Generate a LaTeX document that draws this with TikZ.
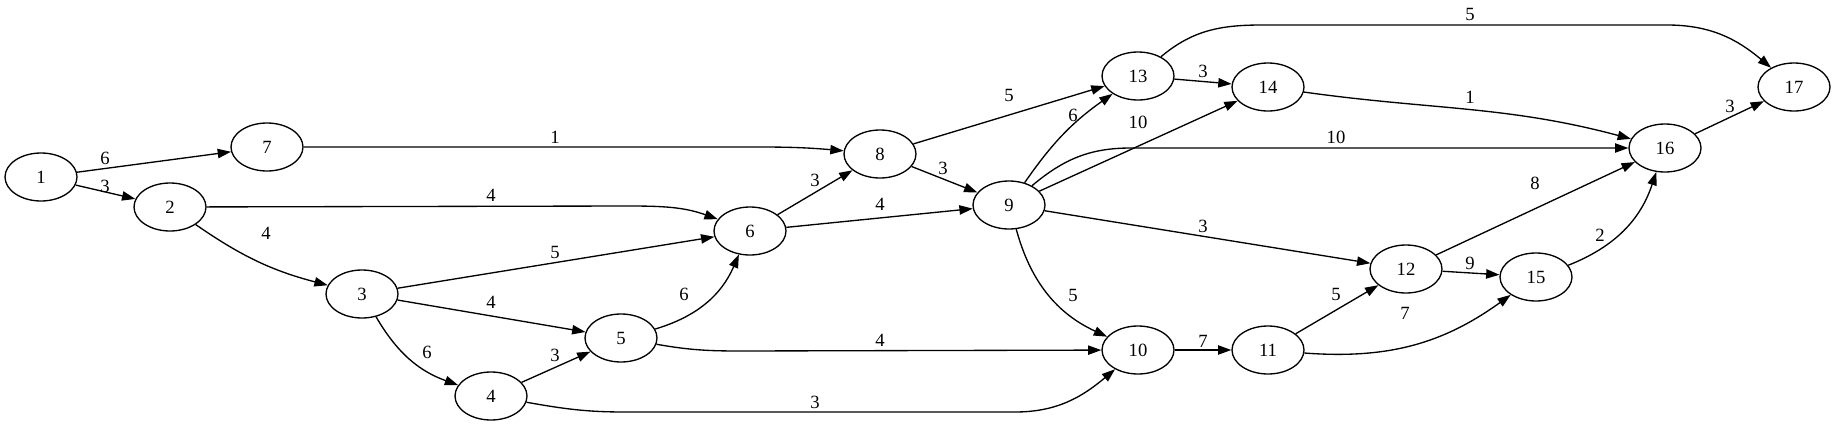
\documentclass[tikz,border=0pt]{standalone}
\usepackage{fontspec}
\setmainfont{Liberation Serif}
\usetikzlibrary{shapes.geometric,arrows.meta}
\begin{document}
\begin{tikzpicture}[x=0.75pt, y=0.75pt, every node/.style={font=\fontsize{14}{16}\selectfont},
  vtx/.style={draw, ellipse, line width=1pt, minimum width=54pt, minimum height=36pt, inner sep=0pt},
  link/.style={-{Triangle[length=10pt,width=7pt]}, line width=1pt},
  wt/.style={inner sep=1pt}]
  \useasboundingbox (0,0) rectangle (1836,-425);
  \foreach \n/\x/\y in {1/41/177, 2/170/207, 3/362/294, 4/491/396, 5/621/338, 6/750/231,
      7/267/147, 8/880/154, 9/1009/205, 10/1138/350, 11/1268/350, 12/1406/269,
      13/1138/76, 14/1268/87, 15/1536/277, 16/1665/148, 17/1794/87} {
    \node[vtx] (n\n) at (\x,-\y) {\n};
  }
  % Left part
  \draw[link] (n1) -- (n7);
  \draw[link] (n1) -- (n2);
  \draw[link] (n7) -- (760,-147) to[out=0,in=175] (n8);
  \draw[link] (n2) -- (628,-206) to[out=0,in=160] (n6);
  \draw[link] (n2) to[bend right=10] (n3);
  \draw[link] (n3) -- (n6);
  \draw[link] (n3) -- (n5);
  \draw[link] (n3) to[bend right=20] (n4);
  \draw[link] (n4) -- (n5);
  \draw[link] (n4) to[out=-10,in=180] (625,-412) -- (1015,-412) to[out=0,in=-140] (n10);
  \draw[link] (n5) to[bend right=25] (n6);
  \draw[link] (n5) to[out=-10,in=180] (740,-351) -- (n10);
  \draw[link] (n6) -- (n8);
  \draw[link] (n6) -- (n9);
  \draw[link] (n8) -- (n9);
  \draw[link] (n8) -- (n13);
  % Right part
  \draw[link] (n9) to[bend left=10] (n13);
  \draw[link] (n9) -- (n14);
  \draw[link] (n9) to[out=40,in=180] (1131,-148) -- (n16);
  \draw[link] (n9) -- (n12);
  \draw[link] (n9) to[bend right=25] (n10);
  \draw[link] (n13) -- (n14);
  \draw[link] (n13) to[out=40,in=180] (1262,-25) -- (1667,-25) to[out=0,in=140] (n17);
  \draw[link] (n14) to[out=-8,in=165] (n16);
  \draw[link] (n10) -- (n11);
  \draw[link] (n11) -- (n12);
  \draw[link] (n11) to[bend right=20] (n15);
  \draw[link] (n12) -- (n16);
  \draw[link] (n12) -- (n15);
  \draw[link] (n15) to[bend right=25] (n16);
  \draw[link] (n16) -- (n17);
  % Weights
  \foreach \e/\x/\y/\w in {1-7/105/158/6, 1-2/105/186/3, 7-8/555/137/1, 2-6/491/195/4,
      2-3/266/233/4, 3-6/555/252/5, 3-5/491/302/4, 3-4/427/352/6, 4-5/555/355/3,
      4-10/815/402/3, 5-6/684/294/6, 5-10/880/340/4, 6-8/815/180/3, 6-9/880/204/4,
      8-9/943/168/3, 8-13/1009/95/5, 9-13/1073/115/6, 9-14/1138/122/10,
      9-16/1336/137/10, 9-12/1203/226/3, 9-10/1073/295/5, 13-14/1203/71/3,
      13-17/1470/14/5, 14-16/1470/97/1, 10-11/1203/341/7, 11-12/1336/294/5,
      11-15/1405/313/7, 12-16/1535/183/8, 12-15/1470/263/9, 15-16/1600/235/2,
      16-17/1730/106/3} {
    \node[wt] (w\e) at (\x,-\y) {\w};
  }
\end{tikzpicture}
\end{document}
